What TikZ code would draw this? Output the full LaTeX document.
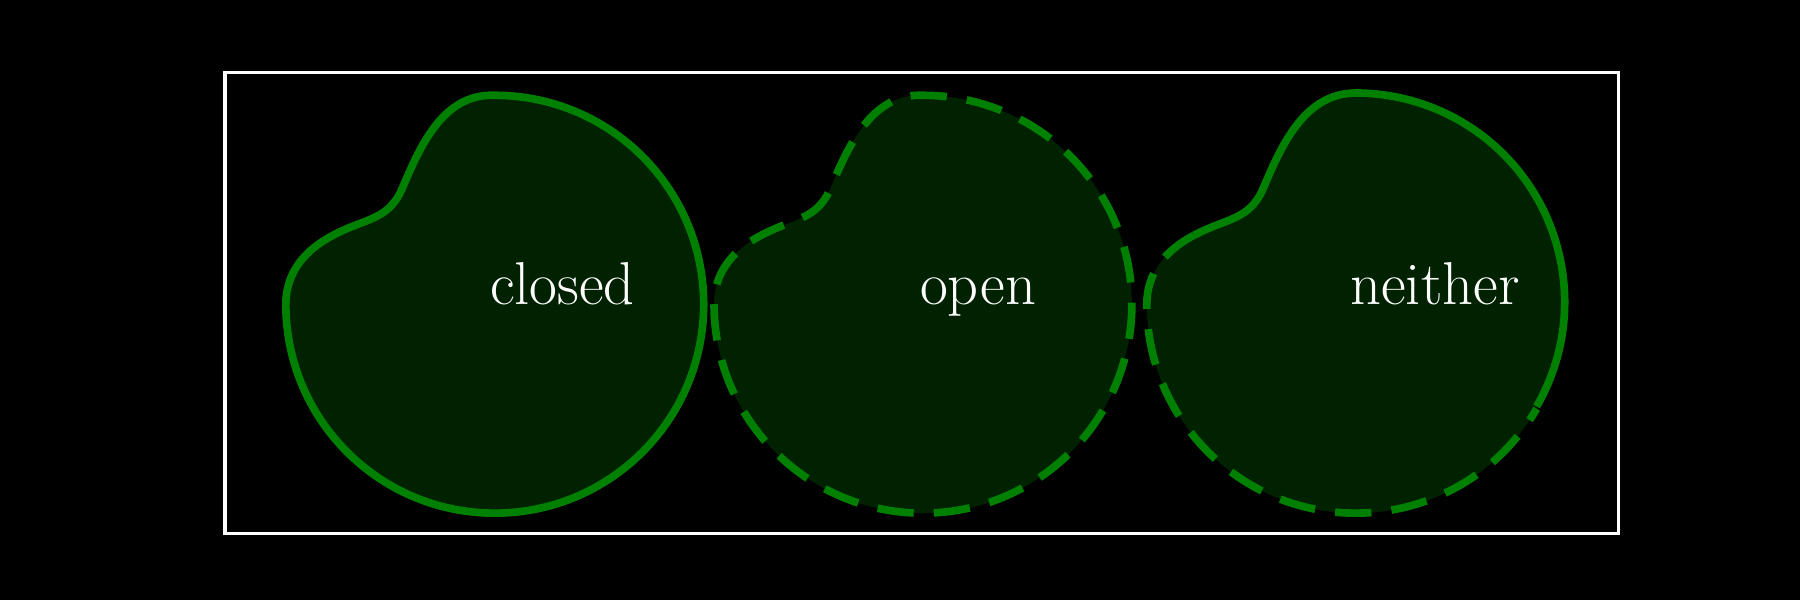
\documentclass[tikz,border=0pt]{standalone}
\begin{document}
\begin{tikzpicture}[x=0.01cm,y=0.01cm,
  blob/.style={draw=none,fill={rgb,255:red,0;green,34;blue,0}},
  edgeline/.style={draw={rgb,255:red,0;green,128;blue,0},line width=1.9pt},
  dashline/.style={edgeline,dash pattern=on 9pt off 5pt},
  lab/.style={text=white,font=\fontsize{15}{17}\selectfont,anchor=base}]
\fill[black] (0,0) rectangle (1568,-523);
\useasboundingbox (0,0) rectangle (1568,-523);
\draw[white,line width=0.8pt] (196,-63) rectangle (1410,-465);
\def\blobshape#1{(#1+249,-265) arc[start angle=180,end angle=450,radius=182]
  .. controls (#1+385,-81) and (#1+365,-130) .. (#1+350,-165)
  .. controls (#1+338,-192) and (#1+318,-190) .. (#1+290,-205)
  .. controls (#1+265,-218) and (#1+249,-238) .. cycle}
\fill[blob] \blobshape{0};
\draw[edgeline] \blobshape{0};
\fill[blob] \blobshape{373};
\draw[dashline] \blobshape{373};
\fill[blob] \blobshape{750};
\draw[edgeline] (1181,-263) ++(330:182) arc[start angle=330,end angle=450,radius=182]
  .. controls (1135,-81) and (1115,-130) .. (1100,-165)
  .. controls (1088,-192) and (1068,-190) .. (1040,-205);
\draw[dashline] (1040,-205) .. controls (1015,-218) and (999,-238) .. (999,-265)
  arc[start angle=180,end angle=330,radius=182];
\node[lab] (c) at (490,-265) {closed};
\node[lab] (o) at (852,-265) {open};
\node[lab] (n) at (1250,-265) {neither};
\end{tikzpicture}
\end{document}
